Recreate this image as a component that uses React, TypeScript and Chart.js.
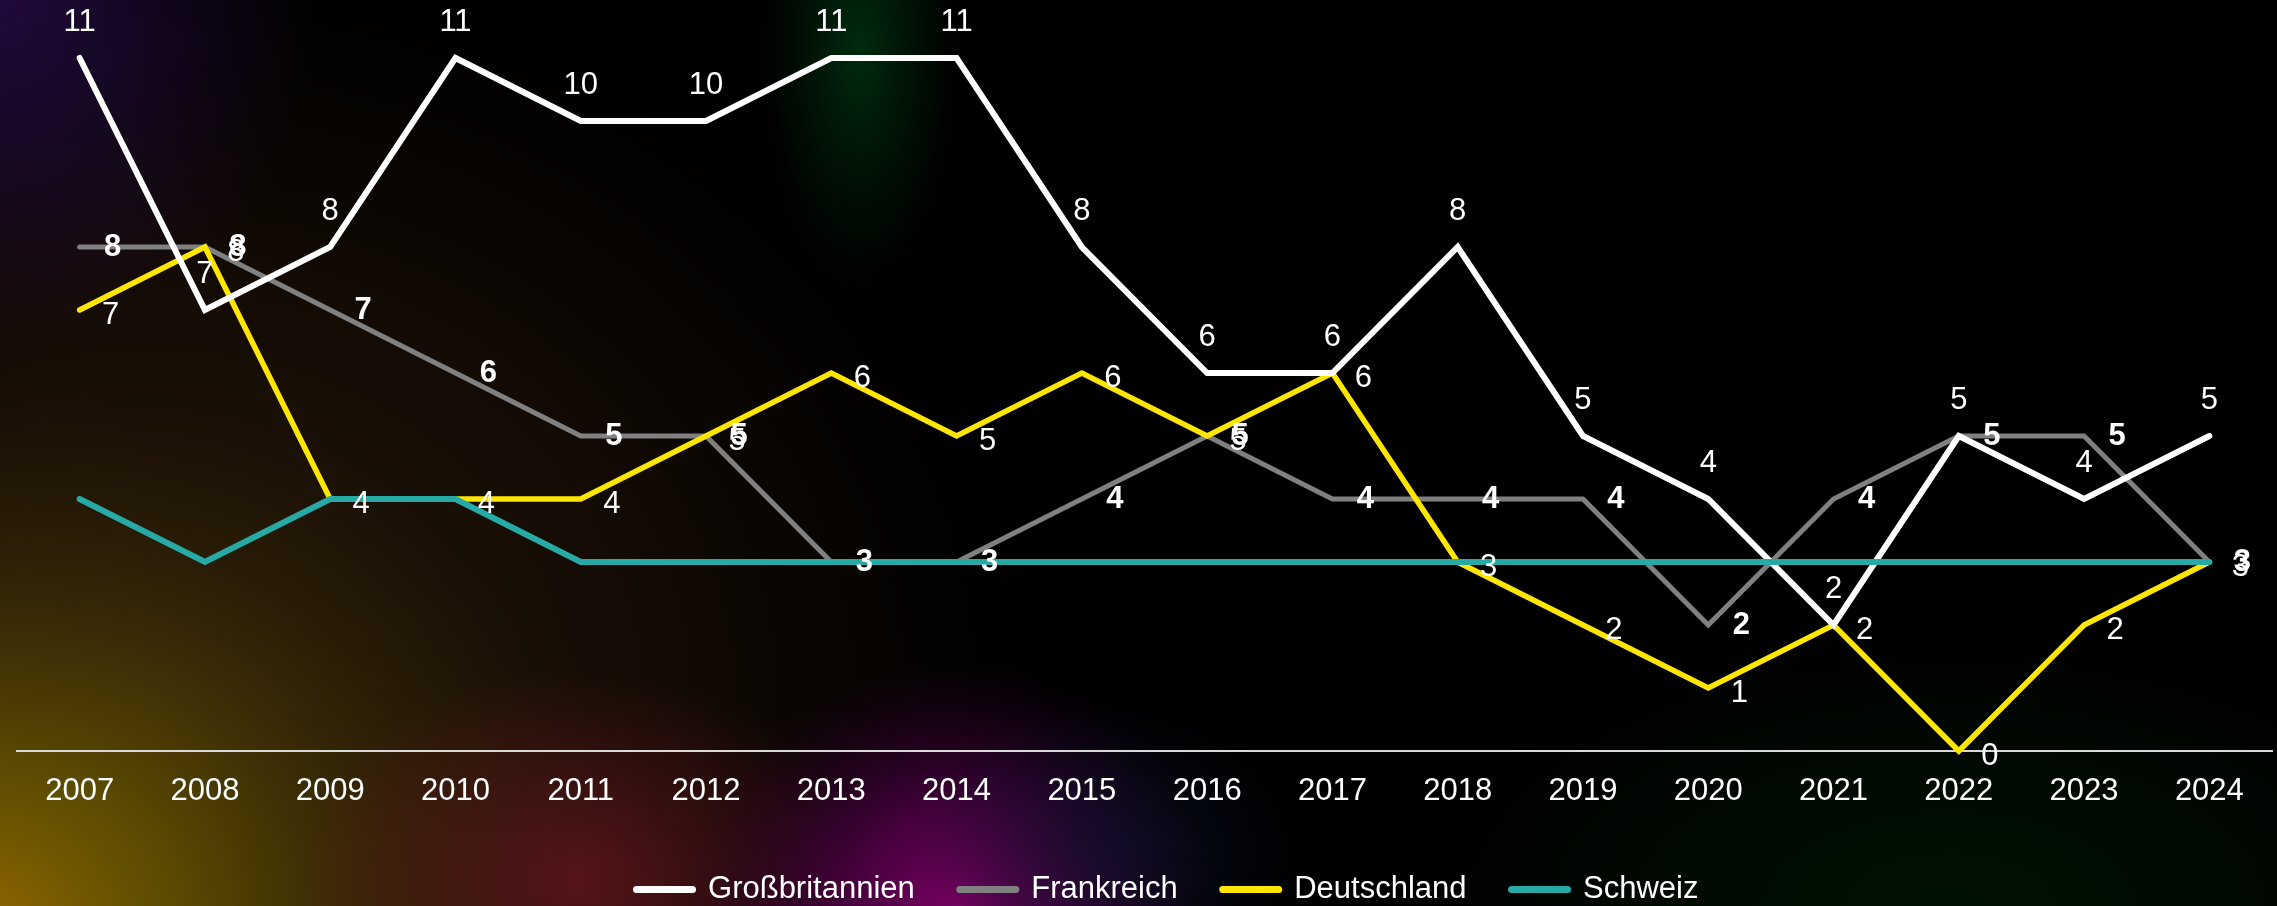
import React, { useEffect, useRef } from "react";
import { Chart, registerables } from "chart.js";

Chart.register(...registerables);

const years = ["2007","2008","2009","2010","2011","2012","2013","2014","2015","2016","2017","2018","2019","2020","2021","2022","2023","2024"];
const grossbritannien = [11, 7, 8, 11, 10, 10, 11, 11, 8, 6, 6, 8, 5, 4, 2, 5, 4, 5];
const frankreich = [8, 8, 7, 6, 5, 5, 3, 3, 4, 5, 4, 4, 4, 2, 4, 5, 5, 3];
const deutschland = [7, 8, 4, 4, 4, 5, 6, 5, 6, 5, 6, 3, 2, 1, 2, 0, 2, 3];
const schweiz = [4, 3, 4, 4, 3, 3, 3, 3, 3, 3, 3, 3, 3, 3, 3, 3, 3, 3];

const FONT = "'Liberation Sans', Arial, sans-serif";
const W = 2277;
const H = 915;

// label placement rule per dataset index (null = no labels)
const labelRules: Array<null | { dx: number; dy: number; weight: string }> = [
  { dx: 0, dy: -36, weight: "normal" },
  { dx: 33, dy: 0, weight: "bold" },
  { dx: 31, dy: 5, weight: "normal" },
  null,
];

const backgroundPlugin = {
  id: "bgGlow",
  beforeDraw(chart: any) {
    const ctx = chart.ctx as CanvasRenderingContext2D;
    const w = chart.width;
    const h = chart.height;
    ctx.save();
    ctx.fillStyle = "#000";
    ctx.fillRect(0, 0, w, h);

    const blob = (cx: number, cy: number, rx: number, ry: number, stops: Array<[number, string]>) => {
      ctx.save();
      ctx.translate(cx, cy);
      ctx.scale(rx / 100, ry / 100);
      const g = ctx.createRadialGradient(0, 0, 0, 0, 0, 100);
      stops.forEach(([o, c]) => g.addColorStop(o, c));
      ctx.fillStyle = g;
      ctx.fillRect(-100, -100, 200, 200);
      ctx.restore();
    };

    // broad warm brown tint over the left side
    blob(150, 700, 900, 750, [[0, "rgba(60,40,15,0.7)"], [0.6, "rgba(35,20,8,0.5)"], [1, "rgba(20,10,5,0)"]]);
    // purple top-left
    blob(0, 0, 320, 360, [[0, "rgba(40,12,75,0.8)"], [1, "rgba(40,12,70,0)"]]);
    // orange / olive bottom-left
    blob(-30, 930, 700, 560, [
      [0, "rgba(150,105,0,1)"],
      [0.3, "rgba(105,88,0,0.8)"],
      [0.65, "rgba(65,50,5,0.45)"],
      [1, "rgba(40,25,5,0)"],
    ]);
    // dark red bottom middle-left
    blob(580, 880, 290, 210, [[0, "rgba(100,22,30,0.8)"], [1, "rgba(100,22,30,0)"]]);
    // magenta bottom middle
    blob(955, 910, 270, 250, [[0, "rgba(125,0,100,1)"], [0.4, "rgba(90,0,80,0.75)"], [1, "rgba(50,0,50,0)"]]);
    // navy near magenta
    blob(1110, 850, 200, 150, [[0, "rgba(10,20,45,0.6)"], [1, "rgba(10,20,45,0)"]]);
    // green streak top
    blob(860, 50, 100, 240, [[0, "rgba(0,55,18,0.8)"], [1, "rgba(0,40,10,0)"]]);
    // dark green bottom right
    blob(1950, 906, 550, 280, [[0, "rgba(0,32,5,0.6)"], [1, "rgba(0,32,5,0)"]]);
    ctx.restore();
  },
};

const labelPlugin = {
  id: "valueLabels",
  afterDatasetsDraw(chart: any) {
    const ctx = chart.ctx as CanvasRenderingContext2D;
    ctx.save();
    ctx.fillStyle = "#ffffff";
    ctx.textAlign = "center";
    ctx.textBaseline = "middle";
    chart.data.datasets.forEach((ds: any, i: number) => {
      const rule = labelRules[i];
      if (!rule) return;
      const meta = chart.getDatasetMeta(i);
      ctx.font = `${rule.weight} 31px ${FONT}`;
      meta.data.forEach((pt: any, j: number) => {
        ctx.fillText(String(ds.data[j]), pt.x + rule.dx, pt.y + rule.dy);
      });
    });
    ctx.restore();
  },
};

const legendShiftPlugin = {
  id: "legendShift",
  afterLayout(chart: any) {
    if (chart.legend) {
      chart.legend.left += 23;
      chart.legend.right += 23;
    }
  },
};

export default function App() {
  const ref = useRef<HTMLCanvasElement | null>(null);

  useEffect(() => {
    if (!ref.current) return;
    const mk = (label: string, data: number[], color: string, width: number, order: number) => ({
      label,
      data,
      borderColor: color,
      backgroundColor: color,
      borderWidth: width,
      pointRadius: 0,
      pointHoverRadius: 0,
      tension: 0,
      fill: false,
      clip: false as any,
      borderJoinStyle: "miter" as const,
      borderCapStyle: "round" as const,
      order,
    });
    const chart = new Chart(ref.current, {
      type: "line",
      data: {
        labels: years,
        datasets: [
          mk("Großbritannien", grossbritannien, "#ffffff", 6, 1),
          mk("Frankreich", frankreich, "#808080", 5, 3),
          mk("Deutschland", deutschland, "#ffe600", 5.5, 2),
          mk("Schweiz", schweiz, "#27aaa6", 6, 0),
        ],
      },
      options: {
        animation: false,
        responsive: false,
        maintainAspectRatio: false,
        layout: { padding: { top: 58, left: 17, right: 5, bottom: 0 } },
        plugins: {
          tooltip: { enabled: false },
          legend: {
            position: "bottom",
            labels: {
              color: "#ffffff",
              font: { family: FONT, size: 31 },
              usePointStyle: true,
              pointStyle: "line",
              pointStyleWidth: 56,
              padding: 45,
              generateLabels: (c: any) => {
                const items = Chart.defaults.plugins.legend.labels.generateLabels(c);
                return items
                  .map((it: any) => ({ ...it, lineWidth: 7, lineCap: "round", pointStyle: "line" }))
                  .sort((a: any, b: any) => a.datasetIndex - b.datasetIndex);
              },
            },
          },
        },
        scales: {
          x: {
            offset: true,
            grid: { display: false, drawTicks: false },
            border: { display: true, color: "#d9d9d9", width: 2 },
            ticks: {
              color: "#ffffff",
              font: { family: FONT, size: 31 },
              padding: 22,
              maxRotation: 0,
              autoSkip: false,
            },
            afterFit: (scale: any) => {
              scale.height = 78;
            },
          },
          y: {
            display: false,
            min: 0,
            max: 11,
          },
        },
      },
      plugins: [backgroundPlugin, labelPlugin, legendShiftPlugin],
    });
    return () => chart.destroy();
  }, []);

  return (
    <div style={{ position: "fixed", left: 0, top: 0, width: W, height: 906, overflow: "hidden", background: "#000" }}>
      <canvas ref={ref} width={W} height={H} style={{ width: W, height: H, display: "block" }} />
    </div>
  );
}
